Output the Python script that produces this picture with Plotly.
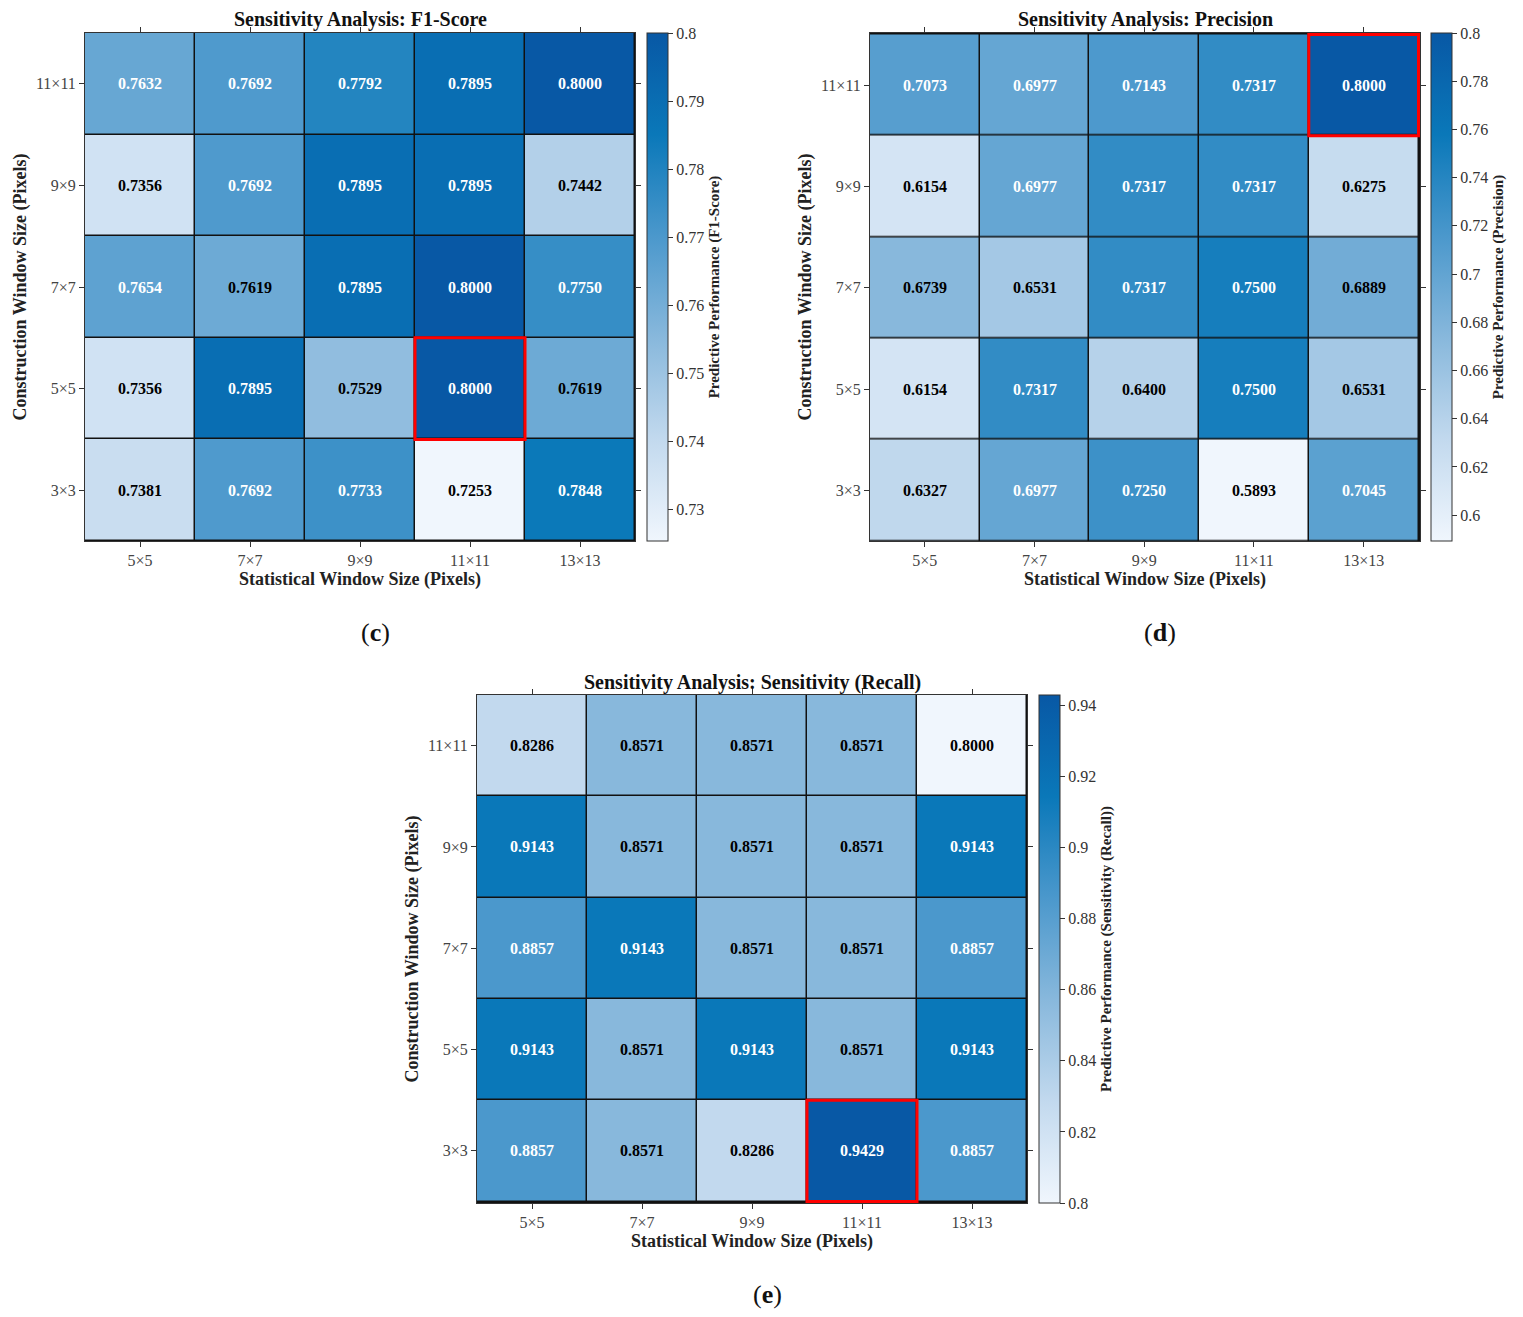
import plotly.graph_objects as go

# window sizes
stat_sizes = ["5×5", "7×7", "9×9", "11×11", "13×13"]
cons_sizes = ["3×3", "5×5", "7×7", "9×9", "11×11"]  # bottom -> top

# rows follow cons_sizes (3x3 first), columns follow stat_sizes
f1_vals = [
    [0.7381, 0.7692, 0.7733, 0.7253, 0.7848],
    [0.7356, 0.7895, 0.7529, 0.8000, 0.7619],
    [0.7654, 0.7619, 0.7895, 0.8000, 0.7750],
    [0.7356, 0.7692, 0.7895, 0.7895, 0.7442],
    [0.7632, 0.7692, 0.7792, 0.7895, 0.8000],
]
prec_vals = [
    [0.6327, 0.6977, 0.7250, 0.5893, 0.7045],
    [0.6154, 0.7317, 0.6400, 0.7500, 0.6531],
    [0.6739, 0.6531, 0.7317, 0.7500, 0.6889],
    [0.6154, 0.6977, 0.7317, 0.7317, 0.6275],
    [0.7073, 0.6977, 0.7143, 0.7317, 0.8000],
]
recall_vals = [
    [0.8857, 0.8571, 0.8286, 0.9429, 0.8857],
    [0.9143, 0.8571, 0.9143, 0.8571, 0.9143],
    [0.8857, 0.9143, 0.8571, 0.8571, 0.8857],
    [0.9143, 0.8571, 0.8571, 0.8571, 0.9143],
    [0.8286, 0.8571, 0.8571, 0.8571, 0.8000],
]

f1_ticks = [0.73, 0.74, 0.75, 0.76, 0.77, 0.78, 0.79, 0.80]
prec_ticks = [0.60, 0.62, 0.64, 0.66, 0.68, 0.70, 0.72, 0.74, 0.76, 0.78, 0.80]
recall_ticks = [0.80, 0.82, 0.84, 0.86, 0.88, 0.90, 0.92, 0.94]

# highlighted (statistical, construction) cell of each panel
f1_best = ("11×11", "5×5")
prec_best = ("13×13", "11×11")
recall_best = ("11×11", "3×3")

blues = [[0.0, "#f0f6fd"], [0.2, "#c2d9ee"], [0.4, "#88b8dc"],
         [0.6, "#4b98cc"], [0.8, "#0a78b9"], [1.0, "#0858a5"]]
serif = "Liberation Serif"
W, H = 1523, 1317
OFF = 8  # page body margin

panels = [
    dict(z=f1_vals, ticks=f1_ticks, best=f1_best, name="F1-Score",
         cbt="Predictive Performance (F1-Score)", px=(85, 635), py=(33, 541),
         cbx=647, tag="c"),
    dict(z=prec_vals, ticks=prec_ticks, best=prec_best, name="Precision",
         cbt="Predictive Performance (Precision)", px=(870, 1420), py=(33, 541),
         cbx=1431, tag="d"),
    dict(z=recall_vals, ticks=recall_ticks, best=recall_best, name="Sensitivity (Recall)",
         cbt="Predictive Performance (Sensitivity (Recall))", px=(477, 1027), py=(695, 1203),
         cbx=1039, tag="e"),
]


def fx(px):
    return (px - OFF) / W


def fy(py):
    return 1 - (py - OFF) / H


fig = go.Figure()
annotations = []
shapes = []

for i, p in enumerate(panels):
    n = "" if i == 0 else str(i + 1)
    xa, ya = "x" + n, "y" + n
    flat = [v for row in p["z"] for v in row]
    zmin, zmax = min(flat), max(flat)
    mid = (zmin + zmax) / 2
    y0 = fy(p["py"][1])
    y1 = fy(p["py"][0])

    fig.add_trace(go.Heatmap(
        z=p["z"], x=stat_sizes, y=cons_sizes, xaxis=xa, yaxis=ya,
        zmin=zmin, zmax=zmax, colorscale=blues, xgap=1.5, ygap=1.5,
        hovertemplate="%{z:.4f}<extra></extra>",
        colorbar=dict(
            x=fx(p["cbx"]), xanchor="left", y=(y0 + y1) / 2, yanchor="middle",
            len=p["py"][1] - p["py"][0], lenmode="pixels", thickness=21,
            xpad=0, ypad=0,
            outlinecolor="#333", outlinewidth=1,
            ticks="outside", ticklen=5, tickcolor="#333",
            tickvals=p["ticks"], ticktext=[f"{t:g}" for t in p["ticks"]],
            tickfont=dict(family=serif, size=16, color="#333"),
            title=dict(text="<b>" + p["cbt"] + "</b>", side="right",
                       font=dict(family=serif, size=15, color="#222")),
        ),
    ))

    axis_common = dict(type="category", showline=True, linecolor="#333", linewidth=1,
                       mirror="ticks", ticks="outside", ticklen=5, tickcolor="#333",
                       showgrid=False, zeroline=False,
                       tickfont=dict(family=serif, size=16, color="#444"))
    fig.update_layout({
        "xaxis" + n: dict(axis_common, domain=[fx(p["px"][0]), fx(p["px"][1])], anchor=ya,
                          title=dict(text="<b>Statistical Window Size (Pixels)</b>", standoff=2,
                                     font=dict(family=serif, size=18, color="#222"))),
        "yaxis" + n: dict(axis_common, domain=[y0, y1], anchor=xa,
                          title=dict(text="<b>Construction Window Size (Pixels)</b>", standoff=4,
                                     font=dict(family=serif, size=18, color="#222"))),
    })

    for r, row in enumerate(p["z"]):
        for c, v in enumerate(row):
            annotations.append(dict(
                x=stat_sizes[c], y=cons_sizes[r], xref=xa, yref=ya, text=f"<b>{v:.4f}</b>",
                showarrow=False,
                font=dict(family=serif, size=16, color="white" if v > mid else "black")))

    bx = stat_sizes.index(p["best"][0])
    by = cons_sizes.index(p["best"][1])
    shapes.append(dict(type="rect", xref=xa, yref=ya, x0=bx - 0.5, x1=bx + 0.5,
                       y0=by - 0.5, y1=by + 0.5, line=dict(color="#ff0000", width=3)))

    centre = (p["px"][0] + p["px"][1]) / 2
    annotations.append(dict(
        x=fx(centre), y=fy(p["py"][0] - 13), xref="paper", yref="paper",
        text="<b>Sensitivity Analysis: " + p["name"] + "</b>", showarrow=False,
        xanchor="center", yanchor="middle",
        font=dict(family=serif, size=20, color="#111")))
    annotations.append(dict(
        x=fx(centre + 15), y=fy(p["py"][1] + 91), xref="paper", yref="paper",
        text="(<b>" + p["tag"] + "</b>)", showarrow=False, xanchor="center", yanchor="middle",
        font=dict(family=serif, size=26, color="#111")))

fig.update_layout(
    width=W, height=H, margin=dict(l=0, r=0, t=0, b=0),
    paper_bgcolor="white", plot_bgcolor="#111",
    annotations=annotations, shapes=shapes, showlegend=False,
)

fig.write_html("out.html")
